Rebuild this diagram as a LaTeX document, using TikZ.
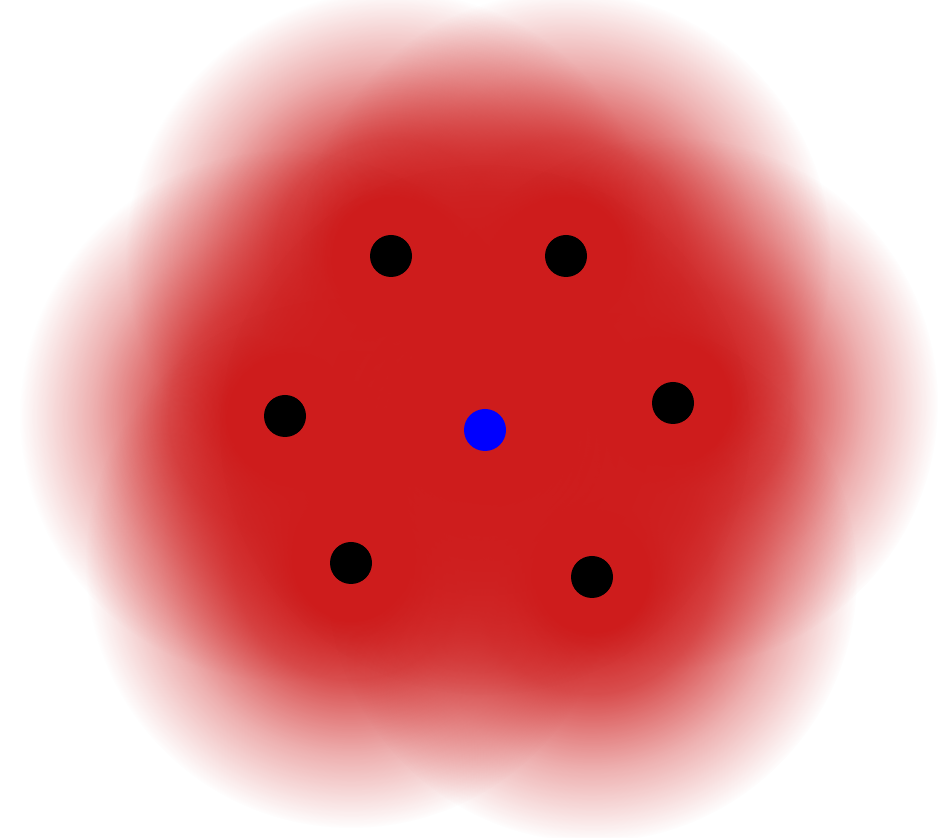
\documentclass[tikz,border=0pt]{standalone}
\usetikzlibrary{fadings}

\pgfdeclareradialshading{glowshade}{\pgfpointorigin}{color(0bp)=(pgftransparent!0); color(5bp)=(pgftransparent!0); color(11bp)=(pgftransparent!22); color(18bp)=(pgftransparent!65); color(25bp)=(pgftransparent!100); color(50bp)=(pgftransparent!100)}
\pgfdeclarefading{glowfade}{\pgfuseshading{glowshade}}
\definecolor{cloudred}{RGB}{206,28,28}

\begin{document}
\begin{tikzpicture}[
    glow/.style={fill=cloudred,path fading=glowfade},
    atom/.style={circle,fill=black,inner sep=0pt,minimum size=0.42cm},
    core/.style={circle,fill=blue,inner sep=0pt,minimum size=0.42cm}]
        \useasboundingbox[fill=white] (0,0) rectangle (9.41,8.37);
        \coordinate (p1) at (3.91,5.81);
        \coordinate (p2) at (5.66,5.81);
        \coordinate (p3) at (2.85,4.21);
        \coordinate (p4) at (6.73,4.34);
        \coordinate (p5) at (3.51,2.74);
        \coordinate (p6) at (5.92,2.60);
        \coordinate (pc) at (4.85,4.07);
        % electron cloud
        \foreach \p in {p1,p2,p3,p4,p5,p6,pc}
            \fill[glow] (\p) circle (2.65);
        \node[atom] (a1) at (p1) {};
        \node[atom] (a2) at (p2) {};
        \node[atom] (a3) at (p3) {};
        \node[atom] (a4) at (p4) {};
        \node[atom] (a5) at (p5) {};
        \node[atom] (a6) at (p6) {};
        \node[core] (c) at (pc) {};
    \end{tikzpicture}
\end{document}
